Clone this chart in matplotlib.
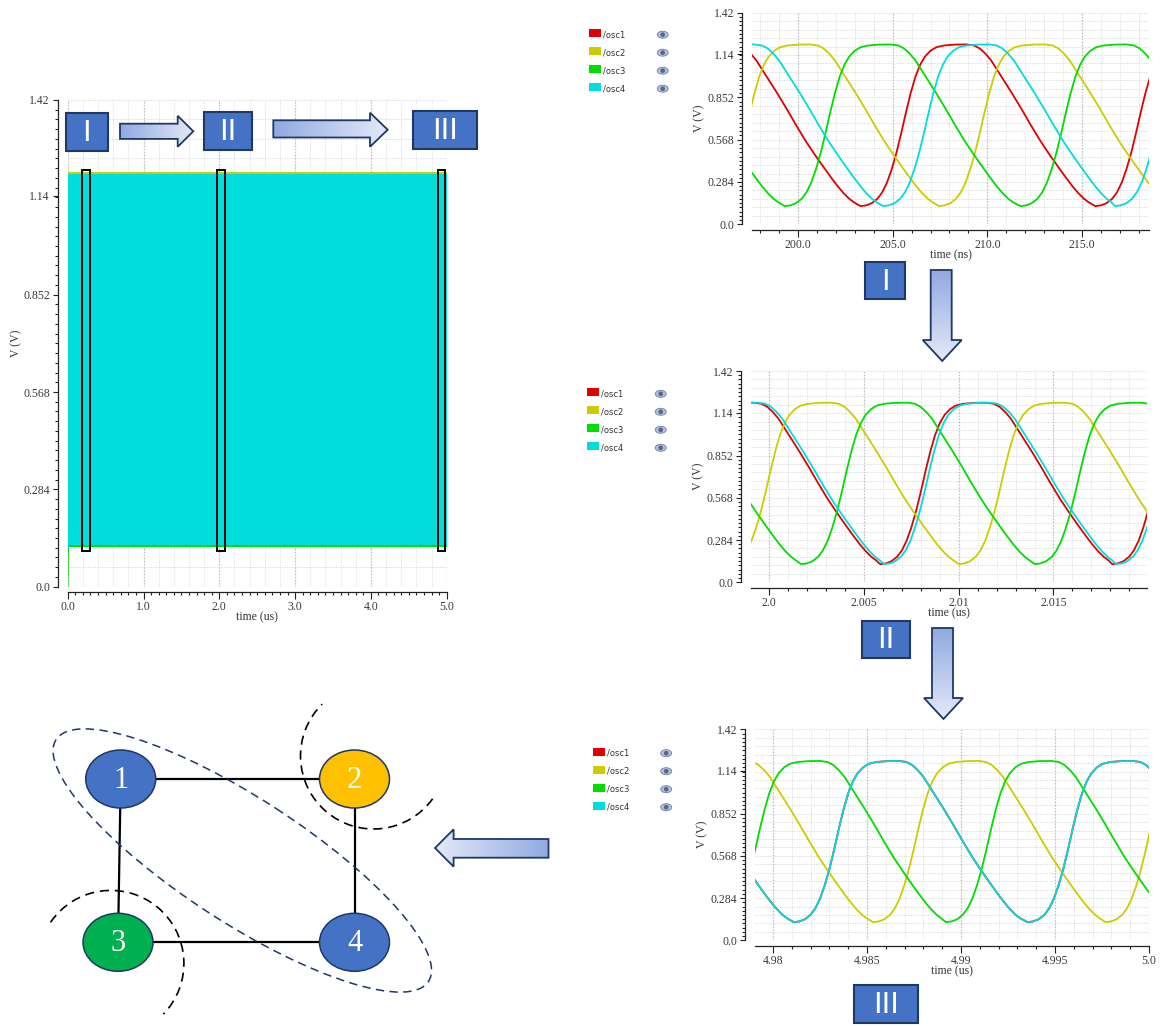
import numpy as np
import matplotlib.pyplot as plt
from matplotlib.patches import Rectangle, Ellipse, Arc, Polygon, Circle
from matplotlib.colors import LinearSegmentedColormap
from matplotlib.ticker import MultipleLocator

plt.rcParams["font.family"] = ["Liberation Serif", "DejaVu Serif"]

W, H = 1162, 1026

signals = ["/osc1", "/osc2", "/osc3", "/osc4"]
sig_colors = ["#e00000", "#cccc00", "#00dd00", "#00dddd"]

v_ticks = [0.0, 0.284, 0.568, 0.852, 1.14, 1.42]
v_labels = ["0.0", "0.284", "0.568", "0.852", "1.14", "1.42"]

# one oscillation of a ring node: time after the trough (ns) and voltage (V)
cycle_t = [0.0, 0.3, 0.6, 0.9, 1.15, 1.4, 1.65, 1.9, 2.15, 2.4, 2.65, 2.9, 3.15, 3.4,
           3.7, 4.0, 4.4, 5.0, 5.6, 6.0, 6.3, 6.6, 6.9, 7.25, 7.6, 8.0, 8.5, 9.0,
           9.5, 10.0, 10.5, 10.9, 11.2, 11.5, 11.8, 12.05]
cycle_v = [0.122, 0.127, 0.142, 0.172, 0.215, 0.28, 0.37, 0.48, 0.61, 0.75, 0.88, 0.99, 1.07, 1.125,
           1.165, 1.188, 1.2, 1.206, 1.207, 1.2, 1.18, 1.145, 1.1, 1.03, 0.96, 0.88, 0.775, 0.665,
           0.56, 0.465, 0.375, 0.305, 0.255, 0.21, 0.172, 0.148]

# trough instants of osc1..osc4 in the three zoomed windows
troughs_I = [[190.9, 203.3, 215.7],            # ns
             [195.05, 207.45, 219.85],
             [186.9, 199.3, 211.75],
             [192.1, 204.5, 216.75]]
troughs_II = [[1.99358, 2.00585, 2.0181],      # us
              [1.99766, 2.0100, 2.0224],
              [1.98934, 2.00168, 2.01402],
              [1.99378, 2.00605, 2.0183]]
troughs_III = [[4.9687, 4.9811, 4.99354],      # us
               [4.97293, 4.98533, 4.99768],
               [4.9769, 4.9892, 5.0016],
               [4.9687, 4.9811, 4.99354]]

# whole 5 us run: start-up value and swing envelope of each node
run_t = [0.004, 5.0]
start_t = [0.0, 0.004]
start_v = [0.09, 0.11, 0.0, 0.11]
run_lo = [0.121, 0.119, 0.116, 0.121]
run_hi = [1.205, 1.209, 1.205, 1.203]
windows = [(0.19, 0.295), (1.97, 2.07), (4.88, 4.98)]

fig = plt.figure(figsize=(W / 100, H / 100), dpi=100)


def px_axes(x0, y0, x1, y1):
    return fig.add_axes([x0 / W, 1 - y1 / H, (x1 - x0) / W, (y1 - y0) / H])


def node_trace(troughs, unit):
    t = np.concatenate([tr + np.asarray(cycle_t) * unit for tr in troughs])
    v = np.tile(cycle_v, len(troughs))
    return t, v


def dress(ax, xlim, xticks, xlabels, xminor, xgrid, xlabel, lab_y):
    ax.set_xlim(xlim)
    ax.set_ylim(0, 1.42)
    for s in ("top", "right"):
        ax.spines[s].set_visible(False)
    ax.spines["left"].set_position(("outward", 7))
    ax.spines["bottom"].set_position(("outward", 3.8))
    for s in ("left", "bottom"):
        ax.spines[s].set_color("#222222")
        ax.spines[s].set_linewidth(0.9)
    ax.set_yticks(v_ticks)
    ax.set_yticklabels(v_labels)
    ax.yaxis.set_minor_locator(MultipleLocator(0.0284))
    ax.set_xticks(xticks)
    ax.set_xticklabels(xlabels)
    ax.xaxis.set_minor_locator(MultipleLocator(xminor))
    ax.tick_params(which="both", labelsize=8.5, labelcolor="#3a3a3a", color="#222222", width=0.8, pad=2)
    ax.tick_params(axis="x", which="major", length=4.8)
    ax.tick_params(axis="y", which="major", length=3.8)
    ax.tick_params(which="minor", length=2)
    ax.set_facecolor("none")
    # dotted grid
    ys = np.arange(0.0568, 1.43, 0.0568)
    ax.hlines(ys, xlim[0], xlim[1], colors="#d2d2d2", linestyles=(0, (1, 1.5)), lw=0.7, zorder=0)
    xs = np.arange(np.ceil(xlim[0] / xgrid) * xgrid, xlim[1] + 1e-9, xgrid)
    ax.vlines(xs, 0, 1.42, colors="#dadada", linestyles=(0, (1, 1.5)), lw=0.7, zorder=0)
    ax.vlines(xticks, 0, 1.42, colors="#bcbcbc", linestyles=(0, (1, 1.5)), lw=0.9, zorder=0)
    ax.set_xlabel(xlabel, fontsize=8.5, color="#333333")
    ax.set_ylabel("V (V)", fontsize=8.5, color="#333333")
    ax.xaxis.set_label_coords(0.5, lab_y)
    ax.yaxis.set_label_coords(-0.118, 0.5)


# full transient
ax0 = px_axes(67.7, 100, 446.7, 586.7)
for i in range(4):
    ax0.plot(start_t, [start_v[i], run_lo[i]], color=sig_colors[i], lw=1.2, zorder=2)
    ax0.fill_between(run_t, run_lo[i], run_hi[i], color=sig_colors[i], lw=0, zorder=2)
for a, b in windows:
    ax0.add_patch(Rectangle((a, 0.103), b - a, 1.112, fill=False, ec="black", lw=1.4, zorder=5))
dress(ax0, (0, 5), [0, 1, 2, 3, 4, 5], ["0.0", "1.0", "2.0", "3.0", "4.0", "5.0"],
      0.1, 0.2, "time (us)", -0.05)
ax0.yaxis.set_label_coords(-0.121, 0.5)

# zoomed windows
panels = [
    ((752, 12.7, 1149, 224.3), troughs_I, 1.0, (197.57, 218.54), [200, 205, 210, 215],
     ["200.0", "205.0", "210.0", "215.0"], 1.0, "time (ns)"),
    ((751, 371, 1147, 582.3), troughs_II, 1e-3, (1.99903, 2.01994), [2.0, 2.005, 2.01, 2.015],
     ["2.0", "2.005", "2.01", "2.015"], 0.001, "time (us)"),
    ((755, 729.3, 1149, 940.3), troughs_III, 1e-3, (4.97904, 5.0), [4.98, 4.985, 4.99, 4.995, 5.0],
     ["4.98", "4.985", "4.99", "4.995", "5.0"], 0.001, "time (us)"),
]
for rect, troughs, unit, xlim, xt, xl, step, xlab in panels:
    ax = px_axes(*rect)
    for i in range(4):
        t, v = node_trace(troughs[i], unit)
        ax.plot(t, v, color=sig_colors[i], lw=1.3, zorder=2, solid_joinstyle="round")
    dress(ax, xlim, xt, xl, step, step, xlab, -0.12)

# drawing layer in pixel units
ov = fig.add_axes([0, 0, 1, 1])
ov.axis("off")

arrow_cmap = LinearSegmentedColormap.from_list("arrow", ["#91a9e2", "#e4e9f7"])
navy = "#1f3864"


def label_box(x0, y0, x1, y1, text):
    ov.add_patch(Rectangle((x0, y0), x1 - x0, y1 - y0, fc="#4472c4", ec=navy, lw=1.5, zorder=6))
    ov.text((x0 + x1) / 2, (y0 + y1) / 2 + 1, text, color="white", fontsize=21,
            family="DejaVu Sans", ha="center", va="center", zorder=7)


def h_arrow(x_tail, x_head, x_tip, yb0, yb1, yh0, yh1):
    ym = (yh0 + yh1) / 2
    verts = [(x_tail, yb0), (x_head, yb0), (x_head, yh0), (x_tip, ym),
             (x_head, yh1), (x_head, yb1), (x_tail, yb1)]
    poly = Polygon(verts, closed=True, fc="none", ec=navy, lw=1.3, zorder=6)
    ov.add_patch(poly)
    im = ov.imshow(np.linspace(0, 1, 256)[None, :], cmap=arrow_cmap, aspect="auto",
                   extent=(x_tail, x_tip, yh1, yh0), zorder=5, interpolation="bilinear")
    im.set_clip_path(poly)


def v_arrow(y_tail, y_head, y_tip, xb0, xb1, xh0, xh1):
    xm = (xh0 + xh1) / 2
    verts = [(xb0, y_tail), (xb1, y_tail), (xb1, y_head), (xh1, y_head), (xm, y_tip),
             (xh0, y_head), (xb0, y_head)]
    poly = Polygon(verts, closed=True, fc="none", ec=navy, lw=1.3, zorder=6)
    ov.add_patch(poly)
    im = ov.imshow(np.linspace(0, 1, 256)[:, None], cmap=arrow_cmap, aspect="auto",
                   extent=(xh0, xh1, y_tip, y_tail), zorder=5, interpolation="bilinear")
    im.set_clip_path(poly)


def eye(x, y):
    ov.add_patch(Ellipse((x, y), 11, 7, fc="#b6bfd8", ec="#6f7fa6", lw=0.6, zorder=6))
    ov.add_patch(Circle((x, y), 2.3, fc="#55668f", ec="none", zorder=7))


def legend_block(x_sq, y_first, x_eye):
    for k, (name, c) in enumerate(zip(signals, sig_colors)):
        y = y_first + 18 * k
        ov.add_patch(Rectangle((x_sq, y - 4), 12, 8, fc=c, ec="none", zorder=6))
        ov.text(x_sq + 14, y + 1.5, name, fontsize=6, family="DejaVu Sans", color="#333333",
                ha="left", va="center", zorder=6)
        eye(x_eye, y + 1.5)


legend_block(589, 33.2, 662.7)
legend_block(587.4, 392.3, 660.7)
legend_block(593, 751.7, 666.2)

# window labels and arrows over the full run
label_box(66, 112.7, 107.7, 150.6, "I")
label_box(203.7, 111.7, 252, 149.6, "II")
label_box(413.3, 110.7, 476.7, 148.5, "III")
h_arrow(120, 177.7, 193.3, 123.7, 138.9, 115.8, 146.8)
h_arrow(273.3, 370, 387.7, 120.3, 137.5, 112.7, 146.8)

# labels and arrows along the zoomed column
label_box(865, 261.7, 905, 299.3, "I")
label_box(862, 621, 909.5, 658, "II")
label_box(854, 985, 917.5, 1022.7, "III")
v_arrow(270, 340, 361, 930.7, 951.7, 922.7, 961.7)
v_arrow(628, 698, 719, 932, 953, 924, 963)
h_arrow(548.5, 453.6, 435, 839, 857.7, 829.3, 866.7)

# coupled-oscillator graph
nodes = {1: (120.7, 779), 2: (354.5, 779), 3: (118, 942.3), 4: (354.5, 942.3)}
node_colors = {1: "#4472c4", 2: "#ffc000", 3: "#00b050", 4: "#4472c4"}
edges = [(1, 2), (1, 3), (2, 4), (3, 4)]
for a, b in edges:
    (xa, ya), (xb, yb) = nodes[a], nodes[b]
    ov.plot([xa, xb], [ya, yb], color="black", lw=1.6, zorder=3)
for n, (x, y) in nodes.items():
    ov.add_patch(Ellipse((x, y), 70, 58, fc=node_colors[n], ec=navy, lw=1.1, zorder=4))
    ov.text(x, y + 1, str(n), color="white", fontsize=22, ha="center", va="center", zorder=5)
ov.add_patch(Ellipse((242.3, 860.5), 444, 124, angle=33, fill=False, ec=navy, lw=1.1,
                     ls=(0, (5.5, 3.5)), zorder=3))
ov.add_patch(Arc((373.5, 756), 146, 146, theta1=35.9, theta2=225.3, ec="black", lw=1.2,
                 ls=(0, (5.5, 3.5)), zorder=3))
ov.add_patch(Arc((110.9, 963.4), 146, 146, theta1=-145.8, theta2=44, ec="black", lw=1.2,
                 ls=(0, (5.5, 3.5)), zorder=3))

ov.set_xlim(0, W)
ov.set_ylim(H, 0)

fig.savefig("out.png", dpi=100)
